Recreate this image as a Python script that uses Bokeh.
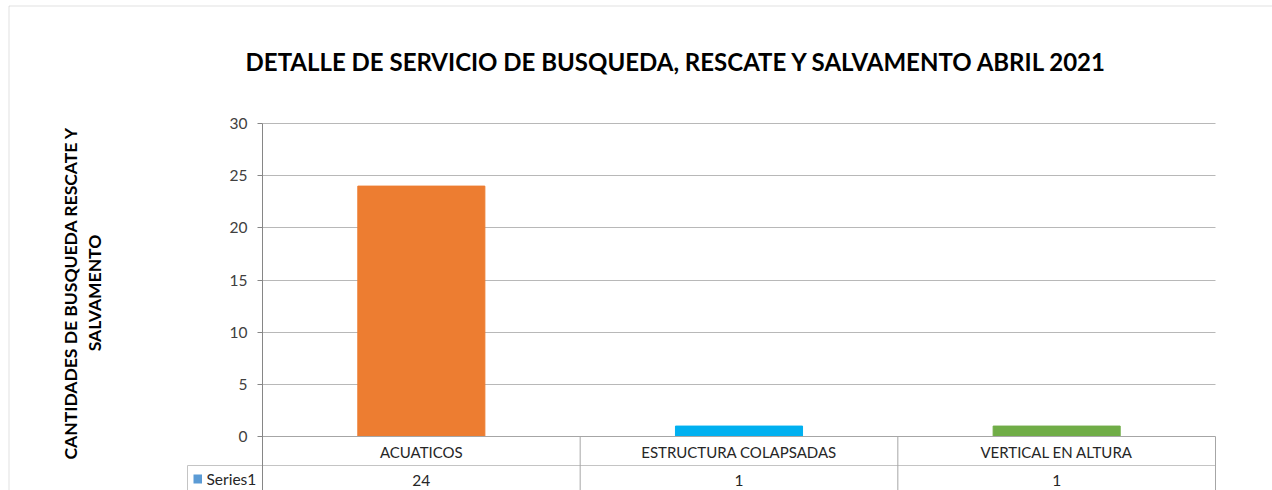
import math
from bokeh.plotting import figure
from bokeh.models import (ColumnDataSource, Range1d, FixedTicker, LinearAxis, Grid,
                          BoxAnnotation)
from bokeh.core.properties import value
from bokeh.embed import file_html
from bokeh.resources import INLINE

# ---------------- data ----------------
categories = ["ACUATICOS", "ESTRUCTURA COLAPSADAS", "VERTICAL EN ALTURA"]
values = [24, 1, 1]
series_name = "Series1"
y_ticks = [0, 5, 10, 15, 20, 25, 30]
title_text = "DETALLE DE SERVICIO DE BUSQUEDA, RESCATE Y SALVAMENTO ABRIL 2021"
y_label_lines = ["CANTIDADES DE BUSQUEDA RESCATE Y", "SALVAMENTO"]

# ---------------- styles / layout ----------------
bar_colors = ["#ED7D31", "#00B0F0", "#70AD47"]
legend_key_color = "#5B9BD5"
FONT = "Lato"
W, H = 1272, 490
PL, PR, PT, PB = 262, 1215, 123, 436      # plot area edges (px)
Y0, Y1 = 0, 30
NX = len(categories)

def dx(px):
    return (px - PL) / (PR - PL) * NX

def dy(py):
    return Y0 + (PB - py) / (PB - PT) * (Y1 - Y0)

xpos = [i + 0.5 for i in range(NX)]
src = ColumnDataSource(dict(x=xpos, val=values, color=bar_colors,
                            txt=[str(v) for v in values]))

p = figure(x_range=Range1d(dx(0), dx(W)), y_range=Range1d(dy(H), dy(0)),
           width=W, height=H, output_backend="svg", toolbar_location=None,
           x_axis_type=None, y_axis_type=None, min_border=0)
p.outline_line_color = None
p.background_fill_color = "white"
p.border_fill_color = "white"

# horizontal gridlines (plot area only)
grid = Grid(dimension=1, ticker=FixedTicker(ticks=y_ticks[1:]), grid_line_color="#B8B8B8")
if "cross_bounds" in Grid.properties():
    grid.cross_bounds = (0, NX)
    p.add_layout(grid)
else:
    p.segment(x0=0, x1=NX, y0=y_ticks[1:], y1=y_ticks[1:], line_color="#B8B8B8")

p.vbar(x="x", top="val", width=0.4, color="color", source=src)

# y axis
yaxis = LinearAxis(fixed_location=0, ticker=FixedTicker(ticks=y_ticks), bounds=(dy(H + 5), Y1))
yaxis.axis_line_color = "#868686"
yaxis.major_tick_line_color = "#868686"
yaxis.major_tick_out = 5
yaxis.major_tick_in = 0
yaxis.minor_tick_line_color = None
yaxis.major_label_standoff = 10
yaxis.major_label_text_font = FONT
yaxis.major_label_text_font_size = "15.5px"
yaxis.major_label_text_color = "#404040"
p.add_layout(yaxis, "left")

# x axis = category row of the data table
xaxis = LinearAxis(fixed_location=0, ticker=FixedTicker(ticks=xpos), bounds=(0, NX),
                   major_label_overrides={x: c for x, c in zip(xpos, categories)})
xaxis.axis_line_color = "#A6A6A6"
xaxis.major_tick_line_color = None
xaxis.minor_tick_line_color = None
xaxis.major_tick_out = 0
xaxis.major_tick_in = 0
xaxis.major_label_standoff = 6
xaxis.major_label_text_font = FONT
xaxis.major_label_text_font_size = "15px"
xaxis.major_label_text_color = "#262626"
p.add_layout(xaxis, "below")

# ----- data table lines -----
row_y = dy(465)
bottom_y = dy(H + 5)
cell_left = dx(187)
p.segment(x0=cell_left, x1=NX, y0=row_y, y1=row_y, line_color="#C4C4C4")
p.segment(x0=list(range(1, NX + 1)), x1=list(range(1, NX + 1)), y0=Y0, y1=bottom_y,
          line_color="#A6A6A6")
p.segment(x0=cell_left, x1=cell_left, y0=row_y, y1=bottom_y, line_color="#C4C4C4")

# legend key + series name
p.add_layout(BoxAnnotation(left=dx(193), right=dx(201.5), top=dy(474), bottom=dy(483),
                           fill_color=legend_key_color, fill_alpha=1, line_color=None))
p.text(x=dx(206), y=dy(478), text=[series_name], text_font=value(FONT),
       text_font_size="15.5px", text_color="#262626", text_align="left", text_baseline="middle")
# values row
p.text(x="x", y=dy(480), text="txt", source=src, text_font=value(FONT),
       text_font_size="15.5px", text_color="#262626", text_align="center", text_baseline="middle")

# title
p.text(x=dx(676.5), y=dy(61), text=[title_text], text_font=value(FONT),
       text_font_size="24px", text_font_style="bold", text_color="#000000",
       text_align="center", text_baseline="middle")

# y axis title (two lines)
for txt, cx in zip(y_label_lines, [69.5, 94]):
    p.text(x=dx(cx), y=dy(292.5), text=[txt], angle=math.pi / 2,
           text_font=value(FONT), text_font_size="17.5px", text_font_style="bold",
           text_color="#000000", text_align="center", text_baseline="middle")

# outer chart border (top and left edges)
p.add_layout(BoxAnnotation(left=dx(8.5), right=dx(W + 50), top=dy(5.5), bottom=dy(H + 50),
                           fill_alpha=0, line_color="#9A9A9A", line_width=1))

open("out.html", "w").write(file_html(p, INLINE))
